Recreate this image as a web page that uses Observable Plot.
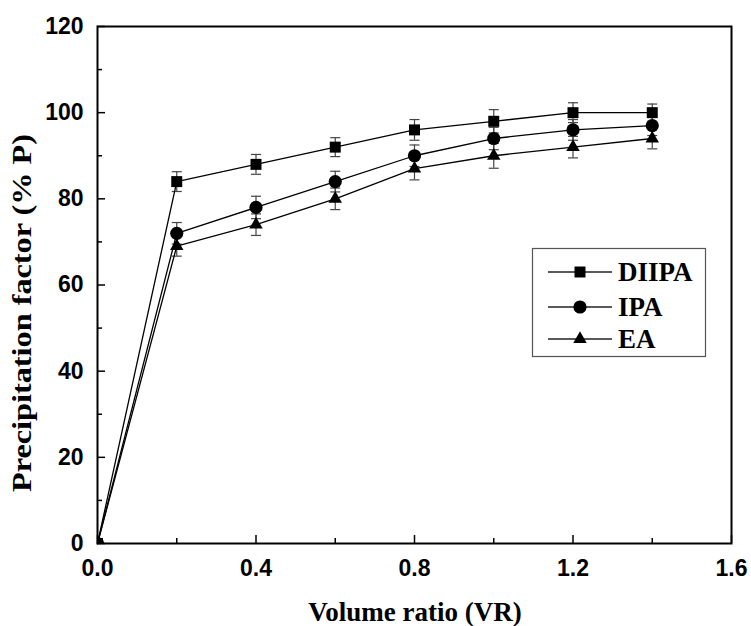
<!DOCTYPE html>
<html><head><meta charset="utf-8">
<script src="https://cdn.jsdelivr.net/npm/d3@7"></script>
<script src="https://cdn.jsdelivr.net/npm/@observablehq/plot@0.6"></script>
<style>body{margin:0;background:#fff;} #chart{width:751px;height:626px;}</style>
</head><body><div id="chart"></div>
<script>
const volumeRatio = [0, 0.2, 0.4, 0.6, 0.8, 1.0, 1.2, 1.4];
const diipa = [0, 84, 88, 92, 96, 98, 100, 100];
const ipa   = [0, 72, 78, 84, 90, 94, 96, 97];
const ea    = [0, 69, 74, 80, 87, 90, 92, 94];
const diipaErr = [0, 2.3, 2.3, 2.2, 2.4, 2.7, 2.3, 2.0];
const ipaErr   = [0, 2.5, 2.6, 2.4, 2.5, 2.6, 2.4, 2.3];
const eaErr    = [0, 2.3, 2.5, 2.5, 2.6, 2.9, 2.5, 2.4];
const seriesNames = ["DIIPA", "IPA", "EA"];
const seriesSymbols = ["square", "circle", "triangle"];
const xTicks = [0, 0.4, 0.8, 1.2, 1.6];
const xMinor = [0.2, 0.6, 1.0, 1.4];
const yTicks = [0, 20, 40, 60, 80, 100, 120];
const yMinor = [10, 30, 50, 70, 90, 110];
const xTitle = "Volume ratio (VR)";
const yTitle = "Precipitation factor (% P)";

const W = 751, H = 626, mL = 97, mR = 20, mT = 26, mB = 83;
const innerW = W - mL - mR, innerH = H - mT - mB;

const values = [diipa, ipa, ea];
const errs = [diipaErr, ipaErr, eaErr];
const rows = [];
seriesNames.forEach((s, i) => volumeRatio.forEach((x, j) =>
  rows.push({series: s, x, y: values[i][j], e: errs[i][j]})));
const errRows = rows.filter(d => d.e > 0);

const capSymbol = {draw(ctx, size) { const w = 5; ctx.moveTo(-w, 0); ctx.lineTo(w, 0); }};
const rFor = {DIIPA: 6.2, IPA: 6.6, EA: 5.0};

const marks = [
  Plot.ruleX(errRows, {x: "x", y1: d => d.y - d.e, y2: d => d.y + d.e, stroke: "#444", strokeWidth: 1.2}),
  Plot.dot(errRows, {x: "x", y: d => d.y + d.e, symbol: capSymbol, stroke: "#444", strokeWidth: 1.2, r: 5}),
  Plot.dot(errRows, {x: "x", y: d => d.y - d.e, symbol: capSymbol, stroke: "#444", strokeWidth: 1.2, r: 5}),
  Plot.line(rows, {x: "x", y: "y", z: "series", stroke: "black", strokeWidth: 1.3}),
  ...seriesNames.map((s, i) => Plot.dot(rows.filter(d => d.series === s),
     {x: "x", y: "y", symbol: () => seriesSymbols[i], fill: "black", stroke: "none", r: rFor[s], clip: "frame"})),
  Plot.tickY(yTicks, {y: d => d, insetRight: innerW - 8, stroke: "black", strokeWidth: 1.5}),
  Plot.tickY(yMinor, {y: d => d, insetRight: innerW - 5, stroke: "black", strokeWidth: 1.5}),
  Plot.tickX(xTicks, {x: d => d, insetTop: innerH - 8, stroke: "black", strokeWidth: 1.5}),
  Plot.tickX(xMinor, {x: d => d, insetTop: innerH - 5, stroke: "black", strokeWidth: 1.5}),
  Plot.axisY({ticks: yTicks, tickSize: 0, tickPadding: 14, label: null, fontSize: 23, fontWeight: "bold", fontFamily: "Liberation Sans"}),
  Plot.axisX({ticks: xTicks, tickSize: 0, tickPadding: 16, label: null, tickFormat: d3.format(".1f"), fontSize: 23, fontWeight: "bold", fontFamily: "Liberation Sans"}),
  Plot.frame({stroke: "black", strokeWidth: 2})
];

const chart = Plot.plot({
  width: W, height: H,
  marginLeft: mL, marginRight: mR, marginTop: mT, marginBottom: mB,
  x: {domain: [0, 1.6]},
  y: {domain: [0, 120]},
  style: {fontFamily: "Liberation Sans", color: "black", background: "white", overflow: "visible"},
  marks
});
document.getElementById("chart").appendChild(chart);

const svg = d3.select(chart);
// Axis titles
svg.append("text").attr("x", 415).attr("y", 621).attr("text-anchor", "middle")
  .attr("font-family", "Liberation Serif").attr("font-weight", "bold").attr("font-size", 27)
  .attr("fill", "black").text(xTitle);
svg.append("text").attr("transform", "translate(31,313) rotate(-90)").attr("text-anchor", "middle")
  .attr("font-family", "Liberation Serif").attr("font-weight", "bold").attr("font-size", 28)
  .attr("textLength", 358).attr("lengthAdjust", "spacingAndGlyphs")
  .attr("fill", "black").text(yTitle);

// Legend
const lg = svg.append("g");
lg.append("rect").attr("x", 532.5).attr("y", 248.5).attr("width", 173).attr("height", 108)
  .attr("fill", "white").attr("stroke", "#555").attr("stroke-width", 1.2);
const symMap = {square: d3.symbolSquare, circle: d3.symbolCircle, triangle: d3.symbolTriangle};
const rowY = [272, 307, 339];
seriesNames.forEach((s, i) => {
  const y = rowY[i];
  lg.append("line").attr("x1", 548).attr("x2", 612).attr("y1", y).attr("y2", y)
    .attr("stroke", "#222").attr("stroke-width", 1.3);
  const r = rFor[s];
  lg.append("path").attr("d", d3.symbol(symMap[seriesSymbols[i]], Math.PI * r * r)())
    .attr("transform", `translate(580,${y})`).attr("fill", "black");
  lg.append("text").attr("x", 618).attr("y", y).attr("dy", "0.35em").attr("text-anchor", "start")
    .attr("font-family", "Liberation Serif").attr("font-weight", "bold").attr("font-size", 27)
    .attr("fill", "black").text(s);
});
</script>
</body></html>
